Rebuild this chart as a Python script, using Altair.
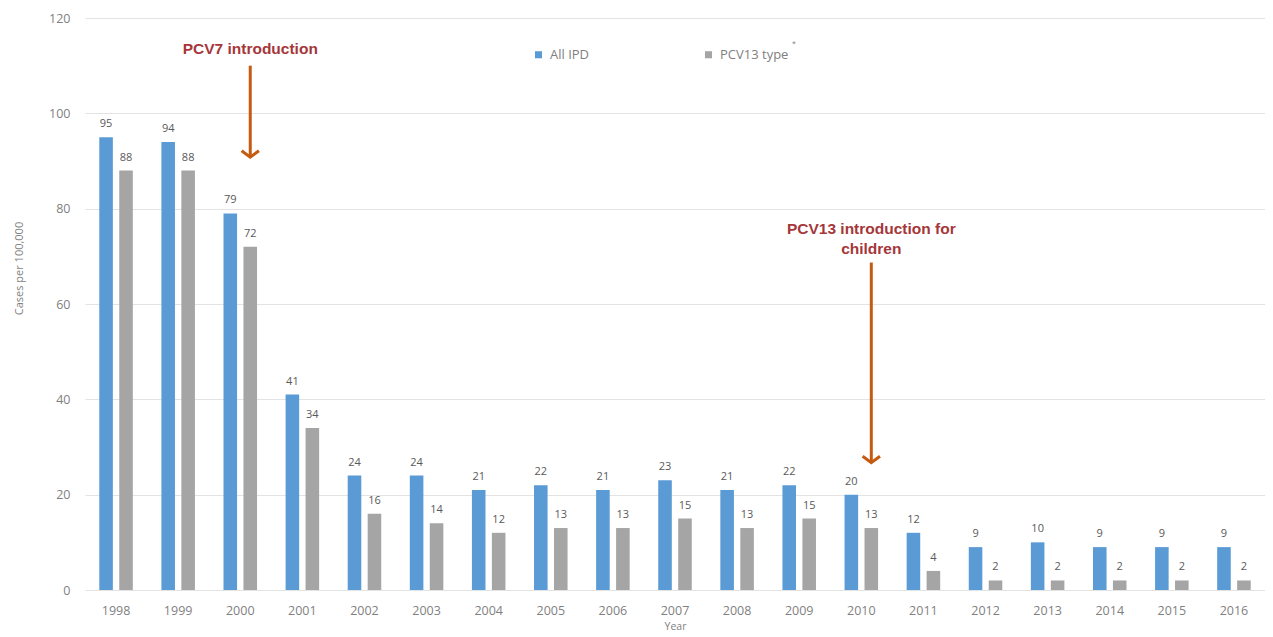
import altair as alt
import pandas as pd

years = [str(y) for y in range(1998, 2017)]
all_ipd = [95, 94, 79, 41, 24, 24, 21, 22, 21, 23, 21, 22, 20, 12, 9, 10, 9, 9, 9]
pcv13 = [88, 88, 72, 34, 16, 14, 12, 13, 13, 15, 13, 15, 13, 4, 2, 2, 2, 2, 2]
series = ["All IPD", "PCV13 type"]
colors = ["#5B9BD5", "#A5A5A5"]

rows = []
for y, a, p in zip(years, all_ipd, pcv13):
    rows.append({"Year": y, "Series": series[0], "Value": a})
    rows.append({"Year": y, "Series": series[1], "Value": p})
df = pd.DataFrame(rows)

# annotations (year, series slot, y values)
ann_text = pd.DataFrame([
    {"Year": "2000", "Series": "PCV13 type", "y": 113.5, "label": "PCV7 introduction"},
    {"Year": "2010", "Series": "PCV13 type", "y": 75.8, "label": "PCV13 introduction for"},
    {"Year": "2010", "Series": "PCV13 type", "y": 71.6, "label": "children"},
])
ann_arrow = pd.DataFrame([
    {"Year": "2000", "Series": "PCV13 type", "y1": 110.0, "y2": 90.8},
    {"Year": "2010", "Series": "PCV13 type", "y1": 68.7, "y2": 26.7},
])

x_enc = alt.X("Year:N", sort=years,
              scale=alt.Scale(paddingInner=0.46, paddingOuter=0.23),
              axis=alt.Axis(title="Year", labelAngle=0, labelFontSize=12.5,
                            labelColor="#7F7F7F", labelPadding=14, ticks=False,
                            domain=False, titleFontSize=10.5, titleColor="#7F7F7F",
                            titleFontWeight="normal", titlePadding=5))
xo_enc = alt.XOffset("Series:N", sort=series,
                     scale=alt.Scale(paddingInner=0.32, paddingOuter=0))
y_scale = alt.Scale(domain=[0, 120])

bars = alt.Chart(df).mark_bar().encode(
    x=x_enc,
    xOffset=xo_enc,
    y=alt.Y("Value:Q", scale=y_scale,
            axis=alt.Axis(title="Cases per 100,000", values=[0, 20, 40, 60, 80, 100, 120],
                          labelFontSize=12.5, labelColor="#7F7F7F", labelPadding=15,
                          ticks=False, domain=False, gridColor="#E3E3E3",
                          titleFontSize=11, titleColor="#7F7F7F", titleY=250,
                          titleFontWeight="normal", titlePadding=24)),
    color=alt.Color("Series:N", sort=series,
                    scale=alt.Scale(domain=series, range=colors),
                    legend=alt.Legend(title=None, orient="none", direction="horizontal",
                                      legendX=447, legendY=30, symbolType="square",
                                      symbolSize=50, symbolStrokeWidth=0,
                                      labelFontSize=13, labelColor="#7F7F7F",
                                      columnPadding=112, labelOffset=5)),
)

labels = alt.Chart(df).mark_text(baseline="bottom", dy=-8, fontSize=11,
                                 color="#595959").encode(
    x=alt.X("Year:N", sort=years),
    xOffset=alt.XOffset("Series:N", sort=series),
    y=alt.Y("Value:Q", scale=y_scale),
    text=alt.Text("Value:Q"),
)

ann_t = alt.Chart(ann_text).mark_text(fontSize=15.5, fontWeight="bold",
                                      color="#A5373A", font="Liberation Sans").encode(
    x=alt.X("Year:N", sort=years),
    xOffset=alt.XOffset("Series:N", sort=series),
    y=alt.Y("y:Q", scale=y_scale),
    text="label:N",
)

arrow_line = alt.Chart(ann_arrow).mark_rule(color="#C55A11", strokeWidth=3).encode(
    x=alt.X("Year:N", sort=years),
    xOffset=alt.XOffset("Series:N", sort=series),
    y=alt.Y("y1:Q", scale=y_scale),
    y2="y2:Q",
)

arrow_head = alt.Chart(ann_arrow).mark_point(
    shape="M -1 -0.75 L 0 0 L 1 -0.75", filled=False, color="#C55A11",
    strokeWidth=3, size=300, opacity=1).encode(
    x=alt.X("Year:N", sort=years),
    xOffset=alt.XOffset("Series:N", sort=series),
    y=alt.Y("y2:Q", scale=y_scale),
)

star = alt.Chart(pd.DataFrame({"t": ["*"]})).mark_text(
    fontSize=7, color="#7F7F7F").encode(
    x=alt.value(709), y=alt.value(26), text="t:N")

chart = alt.layer(bars, labels, ann_t, arrow_line, arrow_head, star).properties(
    width=1180, height=572,
    padding={"left": 5, "top": 4, "right": 0, "bottom": 0},
).configure_view(stroke=None).configure_axis(labelFont="Open Sans", titleFont="Open Sans"
).configure_text(font="Open Sans").configure_legend(labelFont="Open Sans")

chart.save("out.html", embed_options={"renderer": "svg", "actions": False})
